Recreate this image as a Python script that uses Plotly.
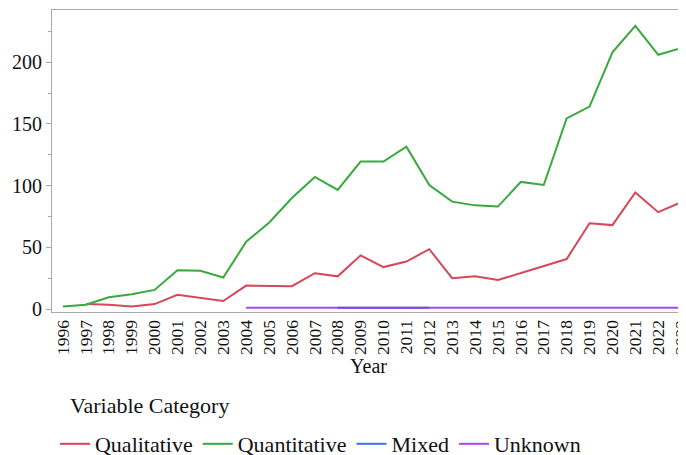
import plotly.graph_objects as go

years = list(range(1996, 2024))
qual_years = list(range(1997, 2024))
qualitative = [4, 3.5, 2, 4, 11.5, 9, 6.5, 19, 18.5, 18.5, 29, 26.5, 43.5, 34, 38.5,
               48.5, 25, 26.5, 23.5, 29, 34.5, 40.5, 69.5, 68, 94.5, 78.5, 86.5]
quantitative = [2, 3.5, 9.5, 12, 15.5, 31.5, 31, 25.5, 54.5, 70, 90, 107, 96.5, 119.5,
                119.5, 131.5, 100.5, 87, 84, 83, 103, 100.5, 154.5, 164, 208, 229.5, 206, 211.5]
mixed_years = list(range(2008, 2013))
mixed = [1, 1, 1, 1, 1]
unknown_years = list(range(2004, 2024))
unknown = [1] * len(unknown_years)

FONT = "Liberation Serif, Times New Roman, serif"
AX = "#a8a8a8"

fig = go.Figure()
fig.add_trace(go.Scatter(x=qual_years, y=qualitative, mode="lines", name="Qualitative",
                         line=dict(color="#d6475a", width=2)))
fig.add_trace(go.Scatter(x=years, y=quantitative, mode="lines", name="Quantitative",
                         line=dict(color="#38a93c", width=2)))
fig.add_trace(go.Scatter(x=mixed_years, y=mixed, mode="lines", name="Mixed",
                         line=dict(color="#3f72e0", width=2)))
fig.add_trace(go.Scatter(x=unknown_years, y=unknown, mode="lines", name="Unknown",
                         line=dict(color="#a032e6", width=2), opacity=0.9))

# page body has an 8px margin, so the figure is narrower and margins shifted
fig.update_layout(
    width=678, height=470,
    margin=dict(l=44, r=1, t=2, b=166, autoexpand=False),
    paper_bgcolor="white", plot_bgcolor="white",
    font=dict(family=FONT, color="#111111", size=20),
    showlegend=True,
    legend=dict(orientation="h", xref="container", yref="container",
                x=0.0693, y=1 - 415 / 470, xanchor="left", yanchor="top",
                font=dict(size=22, family=FONT), itemwidth=30,
                bgcolor="rgba(0,0,0,0)", tracegroupgap=0),
    annotations=[dict(text="Variable Category", xref="paper", yref="paper",
                      x=0.0253, y=-0.31, xanchor="left", yanchor="middle",
                      showarrow=False, font=dict(size=22, family=FONT))],
)
fig.update_xaxes(
    range=[1995.52, 2023.17], tickvals=years, ticktext=[str(y) for y in years],
    tickangle=-90, tickfont=dict(size=17.5, family=FONT), automargin=False,
    ticklabeloverflow="allow",
    showgrid=False, zeroline=False,
    showline=True, linecolor=AX, linewidth=1, mirror=True, ticks="",
    title=dict(text="Year", font=dict(size=20, family=FONT), standoff=4),
)
fig.update_yaxes(
    range=[-2.4, 242.3], tickvals=[0, 50, 100, 150, 200], automargin=False,
    tickfont=dict(size=20, family=FONT),
    showgrid=False, zeroline=False,
    showline=True, linecolor=AX, linewidth=1, mirror=True,
    ticks="outside", ticklen=5, tickcolor=AX,
    minor=dict(tickvals=[25, 75, 125, 175, 225], ticks="outside", ticklen=3, tickcolor=AX),
)

fig.write_html("out.html")
